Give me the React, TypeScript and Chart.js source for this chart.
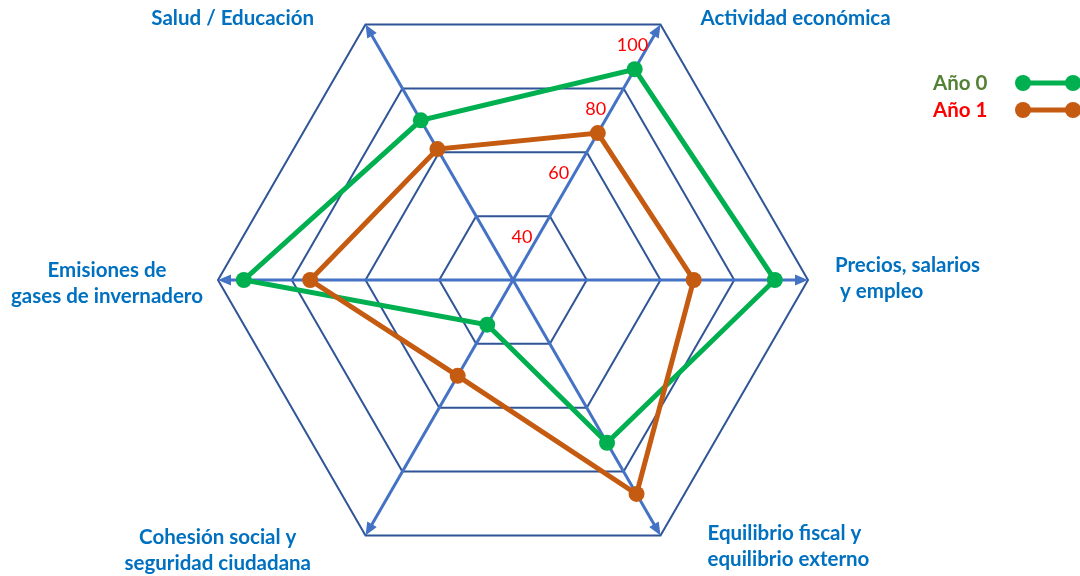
import React, { useEffect, useRef } from "react";
import { Chart, registerables } from "chart.js";

Chart.register(...registerables);

// ---------- data ----------
const categories: string[][] = [
  ["Actividad económica"],
  ["Precios, salarios", " y empleo"],
  ["Equilibrio fiscal y", "equilibrio externo"],
  ["Cohesión social y", "seguridad ciudadana"],
  ["Emisiones de", "gases de invernadero"],
  ["Salud / Educación"],
];
const seriesNames = ["Año 0", "Año 1"];
const year0 = [86, 91, 71, 34, 93, 70];
const year1 = [66, 69, 87, 50, 75, 61];
const tickValues = [40, 60, 80, 100];
const scaleMin = 20;
const scaleMax = 100;

// ---------- styles ----------
const SERIES_COLORS = ["#00B050", "#C55A11"];
const LEGEND_TEXT_COLORS = ["#548235", "#FF0000"];
const LABEL_COLOR = "#0070C0";
const GRID_COLOR = "#2F5597";
const AXIS_COLOR = "#4472C4";
const TICK_COLOR = "#FF0000";
const FONT_FAMILY = "Lato, 'Open Sans', sans-serif";
const LABEL_FONT = `bold 20.5px ${FONT_FAMILY}`;
const TICK_FONT = `18px ${FONT_FAMILY}`;
const CANVAS_W = 1080;
const CANVAS_H = 590;
const Y_OFF = 15; // canvas is shifted up by this many px
const LINE_H = 26.5;

// label placement relative to outer vertex: mode, dx, dy (first line centre)
type Place = { mode: "left" | "right" | "block"; dx: number; dy: number };
const LABEL_PLACES: Place[] = [
  { mode: "left", dx: 40, dy: -6 },
  { mode: "left", dx: 27, dy: -15 },
  { mode: "left", dx: 47, dy: -2.5 },
  { mode: "block", dx: -54.5, dy: 1.5 },
  { mode: "block", dx: -15, dy: -10 },
  { mode: "right", dx: -51.5, dy: -6.5 },
];

const decorPlugin = {
  id: "decor",
  beforeDatasetsDraw(chart: any) {
    const scale = chart.scales.r;
    const ctx: CanvasRenderingContext2D = chart.ctx;
    ctx.save();
    // axes with arrow heads
    const L = 13;
    const W = 5.5;
    for (let i = 0; i < categories.length; i++) {
      const tip = scale.getPointPosition(i, scale.drawingArea);
      const ang = Math.atan2(tip.y - scale.yCenter, tip.x - scale.xCenter);
      const bx = tip.x - L * Math.cos(ang);
      const by = tip.y - L * Math.sin(ang);
      ctx.strokeStyle = AXIS_COLOR;
      ctx.lineWidth = 3;
      ctx.beginPath();
      ctx.moveTo(scale.xCenter, scale.yCenter);
      ctx.lineTo(bx + 2 * Math.cos(ang), by + 2 * Math.sin(ang));
      ctx.stroke();
      ctx.fillStyle = AXIS_COLOR;
      ctx.beginPath();
      ctx.moveTo(tip.x, tip.y);
      ctx.lineTo(bx + W * Math.sin(ang), by - W * Math.cos(ang));
      ctx.lineTo(bx - W * Math.sin(ang), by + W * Math.cos(ang));
      ctx.closePath();
      ctx.fill();
    }
    // tick labels along first axis
    ctx.font = TICK_FONT;
    ctx.fillStyle = TICK_COLOR;
    ctx.textAlign = "center";
    ctx.textBaseline = "middle";
    for (const v of tickValues) {
      const p = scale.getPointPositionForValue(0, v);
      ctx.fillText(String(v), p.x - 28, p.y + 21);
    }
    ctx.restore();
  },
  afterDatasetsDraw(chart: any) {
    const scale = chart.scales.r;
    const ctx: CanvasRenderingContext2D = chart.ctx;
    ctx.save();
    ctx.font = LABEL_FONT;
    ctx.fillStyle = LABEL_COLOR;
    ctx.textBaseline = "middle";
    const labels: string[][] = chart.data.labels;
    labels.forEach((lines, i) => {
      const v = scale.getPointPosition(i, scale.drawingArea);
      const pl = LABEL_PLACES[i];
      if (pl.mode === "block") {
        const maxW = Math.max(...lines.map((t) => ctx.measureText(t).width));
        const cx = v.x + pl.dx - maxW / 2;
        ctx.textAlign = "center";
        lines.forEach((t, k) => ctx.fillText(t, cx, v.y + pl.dy + k * LINE_H));
      } else {
        ctx.textAlign = pl.mode;
        lines.forEach((t, k) => ctx.fillText(t, v.x + pl.dx, v.y + pl.dy + k * LINE_H));
      }
    });
    // legend
    chart.data.datasets.forEach((ds: any, i: number) => {
      const cy = 83 + 27 * i + Y_OFF;
      ctx.textAlign = "left";
      ctx.fillStyle = LEGEND_TEXT_COLORS[i];
      ctx.fillText(ds.label, 933, cy);
      const x1 = 1023;
      const x2 = 1073;
      ctx.strokeStyle = ds.borderColor;
      ctx.lineWidth = 5;
      ctx.beginPath();
      ctx.moveTo(x1, cy);
      ctx.lineTo(x2, cy);
      ctx.stroke();
      ctx.fillStyle = ds.borderColor;
      [x1, x2].forEach((x) => {
        ctx.beginPath();
        ctx.arc(x, cy, 8, 0, Math.PI * 2);
        ctx.fill();
      });
    });
    ctx.restore();
  },
};

export default function App() {
  const ref = useRef<HTMLCanvasElement | null>(null);
  useEffect(() => {
    if (!ref.current) return;
    const mk = (i: number, data: number[]) => ({
      label: seriesNames[i],
      data,
      borderColor: SERIES_COLORS[i],
      backgroundColor: SERIES_COLORS[i],
      pointBackgroundColor: SERIES_COLORS[i],
      pointBorderColor: SERIES_COLORS[i],
      pointBorderWidth: 0,
      pointRadius: 8,
      borderWidth: 5,
      fill: false,
      tension: 0,
      order: 1 - i,
    });
    const chart = new Chart(ref.current, {
      type: "radar",
      data: {
        labels: categories as any,
        datasets: [mk(0, year0), mk(1, year1)],
      },
      options: {
        responsive: false,
        animation: false,
        layout: { padding: { left: 0, right: 54, top: 0, bottom: 0 } },
        plugins: { legend: { display: false }, tooltip: { enabled: false } },
        scales: {
          r: {
            min: scaleMin,
            max: scaleMax,
            startAngle: 30,
            ticks: { display: false, stepSize: 20 },
            pointLabels: { display: false },
            grid: { color: GRID_COLOR, lineWidth: 2 },
            angleLines: { display: false },
          },
        },
      } as any,
      plugins: [decorPlugin],
    });
    return () => chart.destroy();
  }, []);
  return (
    <div
      style={{
        position: "fixed",
        left: 0,
        top: 0,
        width: CANVAS_W,
        height: 576,
        overflow: "hidden",
        background: "#ffffff",
      }}
    >
      <canvas
        ref={ref}
        width={CANVAS_W}
        height={CANVAS_H}
        style={{ position: "absolute", left: 0, top: -Y_OFF, display: "block" }}
      />
    </div>
  );
}
